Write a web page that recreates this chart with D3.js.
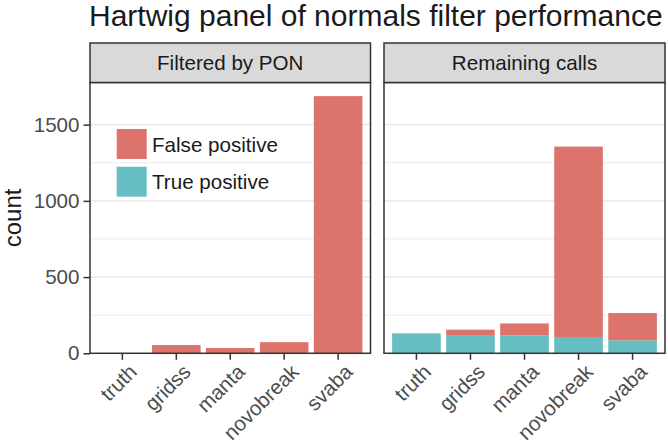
<!DOCTYPE html>
<meta charset="utf-8">
<script src="https://d3js.org/d3.v7.min.js"></script>
<style>
  body { margin: 0; background: #fff; }
  text { font-family: "Liberation Sans", Arial, Helvetica, sans-serif; fill: #1a1a1a; }
</style>
<div id="chart"></div>
<script>

// data
var callers = ["truth", "gridss", "manta", "novobreak", "svaba"];
var panels = ["Filtered by PON", "Remaining calls"];
var classes = ["True positive", "False positive"];   // stacking order, bottom first
var legendOrder = ["False positive", "True positive"];
var filteredTP = [0, 0, 0, 0, 0];
var filteredFP = [0, 54, 35, 73, 1687];
var remainingTP = [131, 120, 118, 107, 85];
var remainingFP = [0, 35, 78, 1249, 179];
var yMajor = [0, 500, 1000, 1500];
var yMinor = [250, 750, 1250];
var colours = {"False positive": "#dc746c", "True positive": "#66bec3"};

var title = "Hartwig panel of normals filter performance";

// build one table per panel
function rows(tp, fp) {
  return callers.map(function(c, i) {
    return {caller: c, "True positive": tp[i], "False positive": fp[i]};
  });
}
var panelData = [rows(filteredTP, filteredFP), rows(remainingTP, remainingFP)];

var W = 668, H = 445;
var panelTop = 82.5, panelBottom = 353.3;
var panelX = [[90, 370.5], [384, 665]];
var stripTop = 43;
var small = "20.6px";

var svg = d3.select("#chart").append("svg")
    .attr("width", W)
    .attr("height", H);

svg.append("rect").attr("width", W).attr("height", H).attr("fill", "#fff");

// shared y scale, upper limit expanded a bit above the tallest bar
var yMax = d3.max(filteredFP) * 1.053;
var y = d3.scaleLinear()
  .domain([0, yMax])
  .range([panelBottom, panelTop]);

var stack = d3.stack().keys(classes);

// title
svg.append("text")
    .attr("x", 89)
    .attr("y", 26)
    .style("font-size", "30px")
    .text(title);

panels.forEach(function(name, p) {
  var x0 = panelX[p][0], x1 = panelX[p][1];
  var g = svg.append("g");

  var x = d3.scaleBand()
    .domain(callers)
    .range([x0, x1])
    .paddingInner(0.1)
    .paddingOuter(0.15);

  // grid
  g.selectAll(".minor")
    .data(yMinor)
    .enter().append("line")
      .attr("x1", x0).attr("x2", x1)
      .attr("y1", function(d) { return y(d); })
      .attr("y2", function(d) { return y(d); })
      .attr("stroke", "#ebebeb")
      .attr("stroke-width", 1);
  g.selectAll(".major")
    .data(yMajor)
    .enter().append("line")
      .attr("x1", x0).attr("x2", x1)
      .attr("y1", function(d) { return y(d); })
      .attr("y2", function(d) { return y(d); })
      .attr("stroke", "#ebebeb")
      .attr("stroke-width", 1.6);

  // bars
  var series = stack(panelData[p]);
  g.selectAll(".layer")
    .data(series)
    .enter().append("g")
      .attr("fill", function(d) { return colours[d.key]; })
    .selectAll("rect")
    .data(function(d) { return d; })
    .enter().append("rect")
      .attr("x", function(d) { return x(d.data.caller); })
      .attr("width", x.bandwidth())
      .attr("y", function(d) { return y(d[1]); })
      .attr("height", function(d) { return y(d[0]) - y(d[1]); });

  // panel border
  g.append("rect")
      .attr("x", x0).attr("y", panelTop)
      .attr("width", x1 - x0).attr("height", panelBottom - panelTop)
      .attr("fill", "none")
      .attr("stroke", "#333")
      .attr("stroke-width", 1.5);

  // strip
  g.append("rect")
      .attr("x", x0).attr("y", stripTop)
      .attr("width", x1 - x0).attr("height", panelTop - stripTop)
      .attr("fill", "#d9d9d9")
      .attr("stroke", "#333")
      .attr("stroke-width", 1.5);
  g.append("text")
      .attr("x", (x0 + x1) / 2)
      .attr("y", (stripTop + panelTop) / 2 + 7.5)
      .attr("text-anchor", "middle")
      .style("font-size", small)
      .text(name);

  // x axis
  var xAxis = g.append("g")
      .attr("transform", "translate(0," + panelBottom + ")")
      .call(d3.axisBottom(x).tickSize(6.5).tickSizeOuter(0).tickFormat(""));
  xAxis.select(".domain").remove();
  xAxis.selectAll(".tick line").attr("stroke", "#333").attr("stroke-width", 1.5);

  g.selectAll(".xlab")
    .data(callers)
    .enter().append("text")
      .attr("transform", function(d) {
        return "translate(" + (x(d) + x.bandwidth() / 2 + 2) + "," + (panelBottom + 6) + ") rotate(-45)";
      })
      .attr("text-anchor", "end")
      .attr("dy", "0.95em")
      .style("font-size", small)
      .style("fill", "#4d4d4d")
      .text(function(d) { return d; });

  // y axis on the first panel only
  if (p === 0) {
    var yAxis = g.append("g")
        .attr("transform", "translate(" + x0 + ",0)")
        .call(d3.axisLeft(y).tickValues(yMajor).tickFormat(d3.format("d")).tickSize(6.5).tickPadding(4));
    yAxis.select(".domain").remove();
    yAxis.selectAll(".tick line").attr("stroke", "#333").attr("stroke-width", 1.5);
    yAxis.selectAll(".tick text")
        .style("font-size", small)
        .style("fill", "#4d4d4d")
        .style("font-family", "'Liberation Sans', Arial, Helvetica, sans-serif");
  }
});

// y axis title
svg.append("text")
    .attr("transform", "translate(21," + ((panelTop + panelBottom) / 2) + ") rotate(-90)")
    .attr("text-anchor", "middle")
    .style("font-size", "24px")
    .text("count");

// legend inside the first panel
var legend = svg.append("g");
legendOrder.forEach(function(k, i) {
  var ky = 129 + i * 37.7;
  legend.append("rect")
      .attr("x", 116.7).attr("y", ky)
      .attr("width", 30).attr("height", 30)
      .attr("fill", colours[k]);
  legend.append("text")
      .attr("x", 152)
      .attr("y", ky + 15 + 7.5)
      .style("font-size", small)
      .text(k);
});

</script>
